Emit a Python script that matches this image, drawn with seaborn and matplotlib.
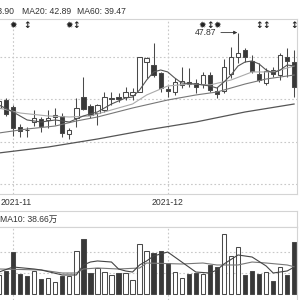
import numpy as np
import matplotlib
matplotlib.use("Agg")
import matplotlib.pyplot as plt
import seaborn as sns
from matplotlib.transforms import blended_transform_factory

# daily candles, bar index 0..42 (left edge of the view is cut off)
opens = [39.00, 39.94, 39.12, 36.76, 36.45, 37.35, 37.71, 37.59, 37.94, 38.06,
         35.94, 37.82, 40.29, 39.24, 38.41, 38.77, 40.06, 40.29, 40.29, 40.53,
         40.88, 44.41, 44.06, 43.12, 41.24, 40.88, 41.71, 42.00, 41.94, 41.82,
         42.88, 41.00, 41.00, 43.00, 45.00, 45.82, 44.53, 43.00, 41.94, 43.47,
         42.88, 45.00, 44.41]
closes = [39.82, 38.29, 36.65, 36.29, 36.38, 37.82, 36.88, 37.82, 38.18, 36.06,
          36.41, 39.00, 38.88, 38.18, 39.35, 40.29, 40.18, 40.06, 40.88, 40.88,
          45.00, 44.88, 42.88, 41.35, 41.00, 42.06, 42.18, 41.82, 41.47, 42.88,
          41.12, 40.65, 43.82, 45.00, 45.47, 45.00, 43.35, 42.29, 43.35, 43.00,
          45.24, 44.53, 41.47]
highs = [40.18, 40.18, 39.35, 37.12, 36.76, 38.77, 37.94, 38.77, 39.00, 38.41,
         36.65, 40.18, 42.65, 39.47, 39.47, 40.88, 40.88, 40.76, 41.47, 41.35,
         45.05, 45.00, 46.65, 43.24, 41.59, 42.53, 43.82, 43.71, 42.41, 43.24,
         43.24, 41.47, 44.76, 46.18, 47.87, 46.06, 45.24, 44.29, 43.71, 43.82,
         45.47, 46.06, 45.82]
lows = [38.77, 38.06, 35.71, 35.59, 35.59, 36.88, 36.18, 36.65, 37.00, 35.59,
        35.35, 36.76, 38.77, 37.82, 37.00, 38.53, 39.35, 39.71, 39.94, 39.94,
        40.85, 42.53, 42.65, 40.88, 40.29, 40.53, 41.35, 41.47, 40.76, 41.35,
        40.88, 40.18, 40.76, 42.53, 44.29, 44.41, 43.12, 42.06, 41.71, 42.65,
        42.29, 42.65, 40.29]
# volume, 万
volumes = [27.0, 32.7, 59.6, 28.4, 25.6, 32.7, 21.3, 22.7, 17.0, 25.6,
           25.6, 61.1, 78.1, 29.8, 36.9, 31.2, 27.0, 29.8, 29.8, 19.9,
           71.0, 61.1, 58.2, 61.1, 44.0, 31.2, 22.7, 28.4, 29.8, 28.4,
           41.2, 38.3, 85.2, 54.0, 66.7, 27.0, 32.7, 28.4, 31.2, 18.5,
           38.3, 27.0, 73.8]

# moving averages (bar index, value)
ma5_idx = [0, 2, 4, 6, 8, 10, 12, 14, 16, 18, 19, 20, 21, 22, 23, 24, 25, 26, 28,
           30, 31, 32, 33, 34, 35, 36, 37, 38, 39, 40, 41, 42]
ma5 = [39.35, 38.53, 37.59, 37.35, 37.59, 37.35, 38.06, 38.53, 39.47, 40.18, 40.29,
       41.12, 42.29, 43.24, 43.47, 43.24, 42.53, 41.94, 41.82, 41.59, 41.35, 42.06,
       42.88, 43.94, 44.41, 44.53, 44.18, 43.47, 43.12, 43.47, 44.06, 43.94]
ma10_idx = [0, 3, 7, 10, 13, 16, 19, 21, 24, 27, 30, 33, 36, 39, 42]
ma10 = [39.00, 38.41, 38.06, 37.94, 38.06, 38.77, 39.47, 40.53, 41.59, 41.82,
        41.71, 42.29, 43.24, 43.24, 43.94]
ma20_idx = [0, 4, 8, 11, 14, 19, 24, 28, 31, 35, 38, 42]
ma20 = [36.06, 36.53, 36.88, 37.47, 37.94, 39.00, 39.94, 40.53, 40.88, 41.82, 42.41, 42.88]
ma60_idx = [0, 7, 14, 21, 28, 35, 42]
ma60 = [33.71, 34.41, 35.35, 36.41, 37.35, 38.53, 39.47]

vma5_idx = [0, 2, 5, 6, 9, 11, 12, 13, 14, 16, 17, 18, 19, 20, 21, 22, 24, 26, 28,
            30, 31, 32, 34, 36, 38, 39, 41, 42]
vma5 = [31.2, 38.3, 35.5, 34.1, 27.0, 27.0, 41.2, 45.4, 46.9, 45.4, 35.5, 32.7,
        31.2, 41.2, 46.9, 54.0, 59.6, 45.4, 31.2, 29.8, 34.1, 42.6, 55.4, 52.5,
        39.8, 29.8, 32.7, 38.3]
vma10_idx = [0, 6, 9, 11, 12, 14, 17, 20, 21, 26, 29, 31, 34, 36, 38, 41, 42]
vma10 = [35.5, 34.1, 29.8, 29.8, 35.5, 36.9, 35.5, 36.9, 44.0, 42.6, 44.0, 41.2,
         41.2, 45.4, 44.0, 41.2, 38.66]

month_idx = [2, 24]
month_labels = ["2021-11", "2021-12"]
star_idx = [2, 10, 29, 31]
arrow_idx = [4, 11, 30, 37, 38, 42]

sns.set_style("white")
plt.rcParams["font.family"] = ["Liberation Sans", "DejaVu Sans"]

DARK = "#383838"
EDGE = "#4a4a4a"
GRID = "#c8c8c8"
SPINE = "#d4d4d4"
TXT = "#333333"
FS = 6.2

fig = plt.figure(figsize=(3, 3), dpi=100)


def box(top, bottom, left=0, right=297):
    return [left / 300, (300 - bottom) / 300, (right - left) / 300, (bottom - top) / 300]


idx = np.arange(len(opens))
o = np.array(opens)
c = np.array(closes)
up = c >= o
face = np.where(up, "white", DARK)

# ---- price panel
ax = fig.add_axes(box(19, 194))
ax.set_xlim(0.142, 42.39)
ax.set_ylim(28.88, 49.47)
for y in [45, 40, 35, 30]:
    ax.axhline(y, color=GRID, lw=0.8, ls=(0, (1.5, 2)), zorder=0)
for m in month_idx:
    ax.axvline(m, color=GRID, lw=0.8, ls=(0, (1.5, 2)), zorder=0)

ax.vlines(idx, lows, highs, color=EDGE, lw=0.75, zorder=2)
ax.bar(idx, np.maximum(np.abs(c - o), 0.07), bottom=np.minimum(o, c), width=0.62,
       color=face, edgecolor=EDGE, linewidth=0.75, zorder=3)

sns.lineplot(x=ma60_idx, y=ma60, ax=ax, color="#555555", lw=0.9, zorder=4)
sns.lineplot(x=ma20_idx, y=ma20, ax=ax, color="#777777", lw=0.8, zorder=4)
sns.lineplot(x=ma10_idx, y=ma10, ax=ax, color="#aaaaaa", lw=0.8, zorder=4)
sns.lineplot(x=ma5_idx, y=ma5, ax=ax, color="#555555", lw=0.8, zorder=4)

top_i = int(np.argmax(highs))
ax.annotate(f"{highs[top_i]:.2f}", xy=(top_i - 0.1, highs[top_i]),
            xytext=(top_i - 3.1, highs[top_i]), ha="right", va="center",
            fontsize=FS, color=TXT,
            arrowprops=dict(arrowstyle="-|>", color=TXT, lw=0.6,
                            mutation_scale=5, shrinkA=1, shrinkB=0))

tr = blended_transform_factory(ax.transData, ax.transAxes)
for s in star_idx:
    ax.text(s, 0.965, "\u2739", transform=tr, ha="center", va="center",
            fontsize=6.5, color="#222222", family="DejaVu Sans")
for a in arrow_idx:
    ax.text(a, 0.965, "\u2195", transform=tr, ha="center", va="center",
            fontsize=6.5, color="#222222", family="DejaVu Sans", weight="bold")

# month labels under the price panel (first one sits against the left edge)
ax.set_xticks([])
for m, lab in zip(month_idx, month_labels):
    first = m == month_idx[0]
    ax.text(0.002 if first else m, -0.05, lab,
            transform=ax.transAxes if first else tr,
            ha="left" if first else "center", va="center", fontsize=FS, color=TXT)
ax.set_yticks([])
ax.set_xlabel("")
ax.set_ylabel("")
for side in ["top", "right", "bottom"]:
    ax.spines[side].set_color(SPINE)
    ax.spines[side].set_linewidth(0.8)
ax.spines["left"].set_visible(False)

# header texts
fig.text(14 / 300, 1 - 11 / 300, "MA10: 43.90", ha="right", va="center", fontsize=FS, color=TXT)
fig.text(22 / 300, 1 - 11 / 300, "MA20: 42.89", ha="left", va="center", fontsize=FS, color=TXT)
fig.text(77 / 300, 1 - 11 / 300, "MA60: 39.47", ha="left", va="center", fontsize=FS, color=TXT)

# ---- volume header box
axh = fig.add_axes(box(211, 227))
axh.set_xticks([])
axh.set_yticks([])
for side in ["top", "right", "bottom"]:
    axh.spines[side].set_color(SPINE)
    axh.spines[side].set_linewidth(0.8)
axh.spines["left"].set_visible(False)
axh.text(0.5 / 297, 0.5, "MA10: 38.66万", transform=axh.transAxes, ha="left",
         va="center", fontsize=FS, color=TXT,
         family=["Liberation Sans", "Noto Sans CJK SC"])

# ---- volume panel
axv = fig.add_axes(box(227, 300))
axv.set_xlim(0.142, 42.39)
axv.set_ylim(-8.5, 95.1)
for y in [30, 60]:
    axv.axhline(y, color=GRID, lw=0.8, ls=(0, (1.5, 2)), zorder=0)
for m in month_idx:
    axv.axvline(m, color=GRID, lw=0.8, ls=(0, (1.5, 2)), zorder=0)
axv.bar(idx, volumes, width=0.62, color=face, edgecolor=EDGE, linewidth=0.75, zorder=2)
sns.lineplot(x=vma10_idx, y=vma10, ax=axv, color="#777777", lw=0.8, zorder=3)
sns.lineplot(x=vma5_idx, y=vma5, ax=axv, color="#444444", lw=0.8, zorder=3)
axv.set_xticks([])
axv.set_yticks([])
axv.set_xlabel("")
axv.set_ylabel("")
for side in ["top", "right"]:
    axv.spines[side].set_color(SPINE)
    axv.spines[side].set_linewidth(0.8)
axv.spines["left"].set_visible(False)
axv.spines["bottom"].set_visible(False)

fig.savefig("out.png", dpi=100)
